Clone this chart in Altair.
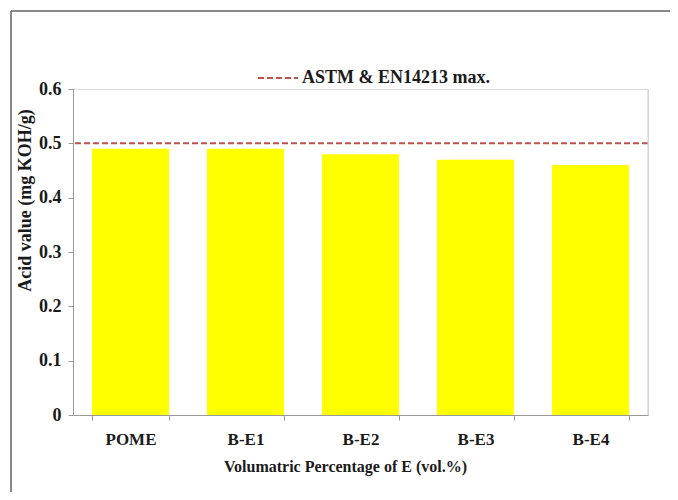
import altair as alt
import pandas as pd

categories = ["POME", "B-E1", "B-E2", "B-E3", "B-E4"]
acid_values = [0.49, 0.49, 0.48, 0.47, 0.46]
limit_label = "ASTM & EN14213 max."
limit_value = [0.5]
y_ticks = [0, 0.1, 0.2, 0.3, 0.4, 0.5, 0.6]

FONT = "Liberation Serif"
RED = "#C0504D"
YELLOW = "#FFFF00"
TXT = "#1a1a1a"

bars_df = pd.DataFrame({"cat": categories, "val": acid_values})
limit_df = pd.DataFrame({"label": [limit_label], "val": limit_value})

W, H = 575, 326

xscale = alt.Scale(domain=categories, paddingInner=0.33, paddingOuter=0.165)
yscale = alt.Scale(domain=[0, 0.6], nice=False, zero=True)

bars = alt.Chart(bars_df).mark_bar(color=YELLOW).encode(
    x=alt.X("cat:N", scale=xscale, sort=categories,
            axis=alt.Axis(title="Volumatric Percentage of E (vol.%)", labelAngle=0,
                          tickBand="extent", tickSize=5, labelPadding=11,
                          labelFont=FONT, labelFontSize=17, labelFontWeight="bold",
                          labelColor=TXT, titleFont=FONT, titleFontSize=16,
                          titleFontWeight="bold", titleColor=TXT,
                          titleX=272, titleY=56, titleBaseline="alphabetic",
                          titleAlign="center", titleAnchor="start",
                          domainColor="#999", tickColor="#999")),
    y=alt.Y("val:Q", scale=yscale,
            axis=alt.Axis(title="Acid value (mg KOH/g)", values=y_ticks, format=".1~f",
                          grid=False, tickSize=5, labelPadding=7,
                          labelFont=FONT, labelFontSize=18, labelFontWeight="bold",
                          labelColor=TXT, titleFont=FONT, titleFontSize=18,
                          titleFontWeight="bold", titleColor=TXT,
                          titleX=-48, titleY=111, titleBaseline="middle",
                          titleAlign="center", titleAnchor="start", titleAngle=270,
                          domainColor="#999", tickColor="#999")),
)

limit = alt.Chart(limit_df).mark_rule(strokeWidth=2, strokeDash=[6, 3]).encode(
    y=alt.Y("val:Q", scale=yscale),
    color=alt.Color("label:N", scale=alt.Scale(domain=[limit_label], range=[RED]),
                    legend=alt.Legend(title=None, orient="none", legendX=184, legendY=-32,
                                      symbolType="stroke", symbolDash=[6, 3],
                                      symbolStrokeWidth=2, symbolSize=1600,
                                      labelOffset=3, labelLimit=0, labelFont=FONT,
                                      labelFontSize=18, labelFontWeight="bold",
                                      labelColor=TXT)),
)

deco = alt.Data(values=[{}])
right_border = alt.Chart(deco).mark_rule(color="#cccccc", strokeWidth=1).encode(
    x=alt.value(W), y=alt.value(0), y2=alt.value(H))
frame_left = alt.Chart(deco).mark_rule(color="#8a8a8a", strokeWidth=2, clip=False).encode(
    x=alt.value(-62), y=alt.value(-78), y2=alt.value(H + 120))
frame_top = alt.Chart(deco).mark_rule(color="#8a8a8a", strokeWidth=2, clip=False).encode(
    x=alt.value(-62), x2=alt.value(W + 120), y=alt.value(-78))

chart = alt.layer(bars, limit, right_border, frame_left, frame_top).properties(
    width=W, height=H,
    autosize=alt.AutoSizeParams(type="none"),
    padding={"left": 65, "top": 81, "right": 22, "bottom": 77},
).configure_view(stroke=None).configure(background="white")

chart.save("out.html", embed_options={"renderer": "svg", "actions": False})
